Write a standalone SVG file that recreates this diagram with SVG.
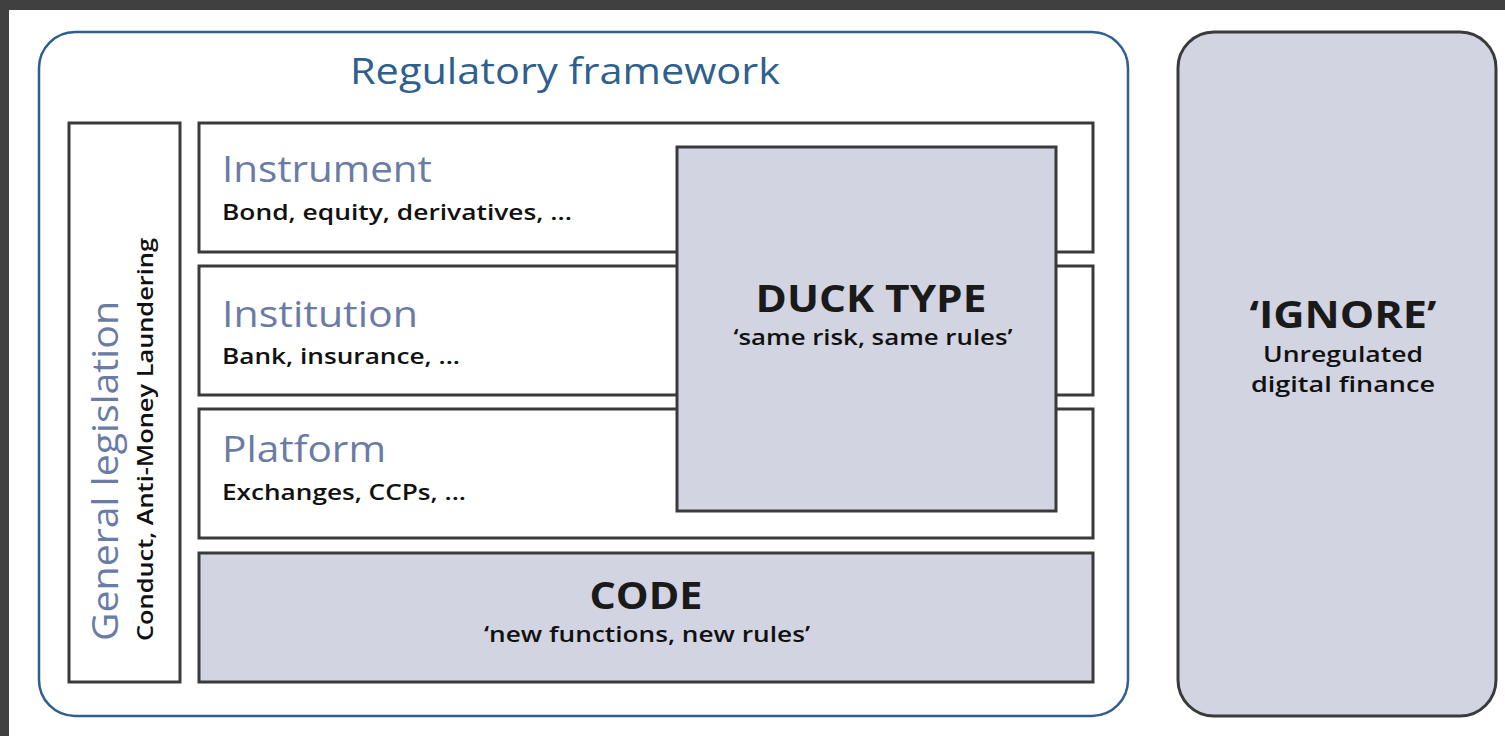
<svg xmlns="http://www.w3.org/2000/svg" width="1505" height="736" viewBox="0 0 1505 736">
<style>
.box{fill:#ffffff;stroke:#3a3a3a;stroke-width:3}
.grey{fill:#d2d4e2;stroke:#3a3a3a;stroke-width:3}
.head{font-family:"Open Sans","Noto Sans",sans-serif;font-size:36px;fill:#6a7ca6}
.sub{font-family:"Open Sans","Noto Sans",sans-serif;font-size:22px;font-weight:600;fill:#111111}
.big{font-family:"Open Sans","Noto Sans",sans-serif;font-size:38px;font-weight:bold;fill:#1a1a1a;text-anchor:middle}
.mid{text-anchor:middle}
</style>
<rect x="0" y="0" width="1505" height="736" fill="#404040"/>
<rect x="9" y="10" width="1496" height="726" fill="#ffffff"/>
<g id="regulatory-framework">
<rect x="39" y="32" width="1089" height="684" rx="36" fill="#ffffff" stroke="#2e5f8e" stroke-width="2.5"/>
<text x="565" y="84" font-family="'Open Sans','Noto Sans',sans-serif" font-size="37" fill="#2e5f8e" text-anchor="middle" textLength="430" lengthAdjust="spacingAndGlyphs">Regulatory framework</text>
</g>
<g id="general-legislation">
<rect class="box" x="69" y="123" width="111" height="559"/>
<text class="head" transform="translate(118,641) rotate(-90)" textLength="340" lengthAdjust="spacingAndGlyphs">General legislation</text>
<text class="sub" transform="translate(153,641) rotate(-90)" textLength="403" lengthAdjust="spacingAndGlyphs">Conduct, Anti-Money Laundering</text>
</g>
<g id="instrument">
<rect class="box" x="199" y="123" width="894" height="129"/>
<text class="head" x="222" y="182" textLength="210" lengthAdjust="spacingAndGlyphs">Instrument</text>
<text class="sub" x="222" y="220" textLength="350" lengthAdjust="spacingAndGlyphs">Bond, equity, derivatives, ...</text>
</g>
<g id="institution">
<rect class="box" x="199" y="266" width="894" height="129"/>
<text class="head" x="222" y="327" textLength="196" lengthAdjust="spacingAndGlyphs">Institution</text>
<text class="sub" x="222" y="364" textLength="238" lengthAdjust="spacingAndGlyphs">Bank, insurance, ...</text>
</g>
<g id="platform">
<rect class="box" x="199" y="409" width="894" height="129"/>
<text class="head" x="222" y="462" textLength="164" lengthAdjust="spacingAndGlyphs">Platform</text>
<text class="sub" x="222" y="500" textLength="244" lengthAdjust="spacingAndGlyphs">Exchanges, CCPs, ...</text>
</g>
<g id="code">
<rect class="grey" x="199" y="553" width="894" height="129"/>
<text class="big" x="646" y="609" textLength="113" lengthAdjust="spacingAndGlyphs">CODE</text>
<text class="sub mid" x="647" y="642" textLength="326" lengthAdjust="spacingAndGlyphs">‘new functions, new rules’</text>
</g>
<g id="duck-type">
<rect class="grey" x="677" y="147" width="379" height="364"/>
<text class="big" x="871" y="312" textLength="231" lengthAdjust="spacingAndGlyphs">DUCK TYPE</text>
<text class="sub mid" x="873" y="345" textLength="279" lengthAdjust="spacingAndGlyphs">‘same risk, same rules’</text>
</g>
<g id="ignore">
<rect x="1178" y="32" width="318" height="684" rx="36" fill="#d2d4e2" stroke="#3a3a3a" stroke-width="3"/>
<text class="big" x="1343" y="328" textLength="187" lengthAdjust="spacingAndGlyphs">‘IGNORE’</text>
<text class="sub mid" x="1343" y="362" textLength="160" lengthAdjust="spacingAndGlyphs">Unregulated</text>
<text class="sub mid" x="1343" y="392" textLength="184" lengthAdjust="spacingAndGlyphs">digital finance</text>
</g>
<g id="connectors"></g>
</svg>
